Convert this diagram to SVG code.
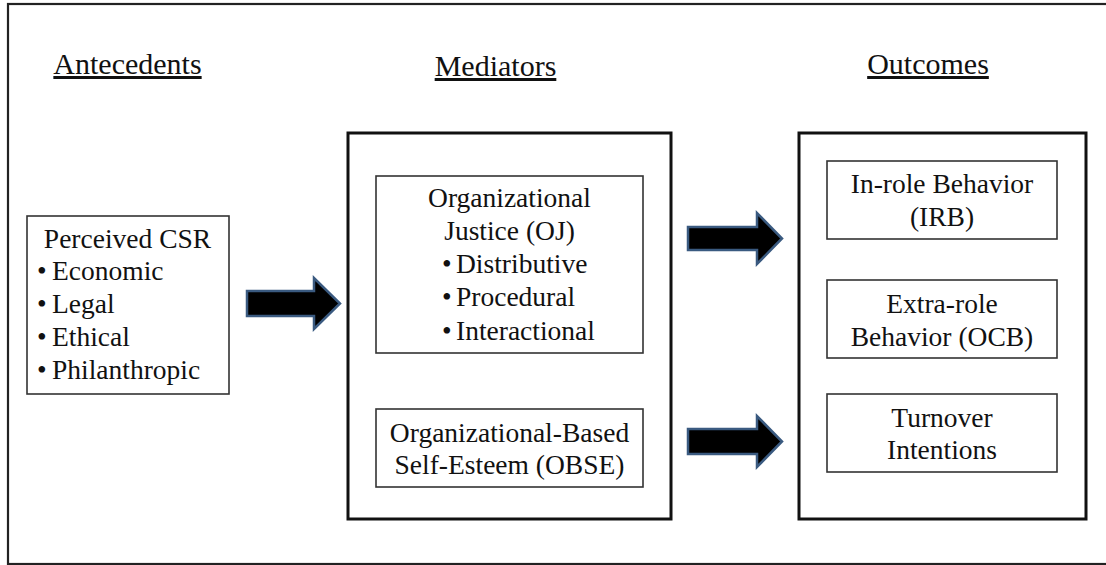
<svg xmlns="http://www.w3.org/2000/svg" width="1106" height="565" viewBox="0 0 1106 565">
<style>
text{fill:#111}
.hd{font-size:30px;text-decoration:underline}
.bd{font-size:27.5px}
.c{text-anchor:middle}
.big{fill:#fff;stroke:#111;stroke-width:3}
.box{fill:#fff;stroke:#333;stroke-width:1.6}
.arr{fill:#000;stroke:#3a5a80;stroke-width:2.5;stroke-linejoin:miter}
</style>
<rect x="0" y="0" width="1106" height="565" fill="#fff"/>
<rect id="frame" x="8" y="4" width="1110" height="560" fill="none" stroke="#222" stroke-width="2.2"/>
<g font-family="'Liberation Serif', Tinos, 'Times New Roman', 'DejaVu Serif', serif">
<g id="headers">
<text class="hd c" x="127.5" y="74">Antecedents</text>
<text class="hd c" x="495.5" y="76">Mediators</text>
<text class="hd c" x="928" y="74">Outcomes</text>
</g>
<g id="csr">
<rect class="box" x="27" y="216" width="202" height="178"/>
<text class="bd c" x="127.5" y="248">Perceived CSR</text>
<text class="bd"><tspan x="37" y="280">•</tspan><tspan x="52" y="280">Economic</tspan></text>
<text class="bd"><tspan x="37" y="313">•</tspan><tspan x="52" y="313">Legal</tspan></text>
<text class="bd"><tspan x="37" y="346">•</tspan><tspan x="52" y="346">Ethical</tspan></text>
<text class="bd"><tspan x="37" y="379">•</tspan><tspan x="52" y="379">Philanthropic</tspan></text>
</g>
<g id="mediators">
<rect class="big" x="348" y="133" width="323" height="386"/>
</g>
<g id="oj">
<rect class="box" x="376" y="176" width="267" height="177"/>
<text class="bd c" x="509.5" y="207">Organizational</text>
<text class="bd c" x="509.5" y="240">Justice (OJ)</text>
<text class="bd"><tspan x="442" y="273">•</tspan><tspan x="456" y="273">Distributive</tspan></text>
<text class="bd"><tspan x="442" y="306">•</tspan><tspan x="456" y="306">Procedural</tspan></text>
<text class="bd"><tspan x="442" y="340">•</tspan><tspan x="456" y="340">Interactional</tspan></text>
</g>
<g id="obse">
<rect class="box" x="376" y="409" width="267" height="78"/>
<text class="bd c" x="509.5" y="442">Organizational-Based</text>
<text class="bd c" x="509.5" y="474">Self-Esteem (OBSE)</text>
</g>
<g id="outcomes">
<rect class="big" x="799" y="133" width="287" height="386"/>
</g>
<g id="irb">
<rect class="box" x="827" y="161" width="230" height="78"/>
<text class="bd c" x="942" y="193">In-role Behavior</text>
<text class="bd c" x="942" y="226">(IRB)</text>
</g>
<g id="ocb">
<rect class="box" x="827" y="280" width="230" height="78"/>
<text class="bd c" x="942" y="313">Extra-role</text>
<text class="bd c" x="942" y="346">Behavior (OCB)</text>
</g>
<g id="turnover">
<rect class="box" x="827" y="394" width="230" height="78"/>
<text class="bd c" x="942" y="427">Turnover</text>
<text class="bd c" x="942" y="459">Intentions</text>
</g>
</g>
<g id="connectors">
<polygon class="arr" points="247,291 314,291 314,278 340,303.5 314,329 314,316 247,316"/>
<polygon class="arr" points="688,227 757,227 757,213 782,238.5 757,264 757,250 688,250"/>
<polygon class="arr" points="688,429 757,429 757,416 782,441.5 757,467 757,454 688,454"/>
</g>
</svg>
